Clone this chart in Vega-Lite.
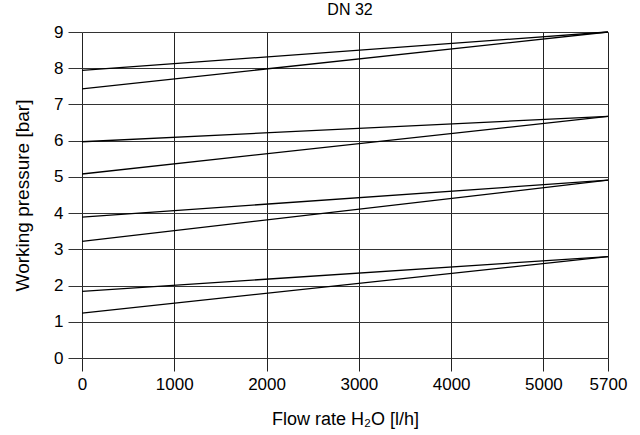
{
  "$schema": "https://vega.github.io/schema/vega-lite/v6.json",
  "autosize": {"type": "none"},
  "padding": {"left": 82, "top": 32, "right": 32, "bottom": 77},
  "width": 526,
  "height": 326,
  "background": "white",
  "title": {"text": "DN 32", "font": "Liberation Sans", "fontSize": 16, "fontWeight": "normal", "color": "#000", "offset": 5, "anchor": "middle", "dx": 5},
  "config": {"view": {"stroke": null}},
  "data": {"values": [
    {"s": "a", "flow": 0, "p": 7.94}, {"s": "a", "flow": 5700, "p": 9.0},
    {"s": "b", "flow": 0, "p": 7.43}, {"s": "b", "flow": 5700, "p": 9.0},
    {"s": "c", "flow": 0, "p": 5.97}, {"s": "c", "flow": 5700, "p": 6.67},
    {"s": "d", "flow": 0, "p": 5.08}, {"s": "d", "flow": 5700, "p": 6.67},
    {"s": "e", "flow": 0, "p": 3.89}, {"s": "e", "flow": 5700, "p": 4.91},
    {"s": "f", "flow": 0, "p": 3.22}, {"s": "f", "flow": 5700, "p": 4.91},
    {"s": "g", "flow": 0, "p": 1.84}, {"s": "g", "flow": 5700, "p": 2.80},
    {"s": "h", "flow": 0, "p": 1.24}, {"s": "h", "flow": 5700, "p": 2.80}
  ]},
  "mark": {"type": "line", "color": "#000", "strokeWidth": 1.3},
  "encoding": {
    "x": {"field": "flow", "type": "quantitative",
      "scale": {"domain": [0, 5700], "nice": false, "zero": false},
      "axis": {"values": [0, 1000, 2000, 3000, 4000, 5000, 5700], "format": "d", "title": "Flow rate H₂O [l/h]",
        "grid": true, "gridColor": "#222", "gridWidth": 1, "gridOpacity": 1,
        "domain": false, "tickSize": 13, "tickColor": "#222", "tickWidth": 1,
        "labelFont": "Liberation Sans", "labelFontSize": 17, "labelColor": "#000", "labelPadding": 5, "labelFlush": false,
        "titleFont": "Liberation Sans", "titleFontSize": 18, "titleFontWeight": "normal", "titleColor": "#000", "titlePadding": 18}},
    "y": {"field": "p", "type": "quantitative",
      "scale": {"domain": [0, 9], "nice": false},
      "axis": {"values": [0, 1, 2, 3, 4, 5, 6, 7, 8, 9], "format": "d", "title": "Working pressure [bar]",
        "grid": true, "gridColor": "#333", "gridWidth": 1, "gridOpacity": 1,
        "domain": false, "tickSize": 14, "tickColor": "#333", "tickWidth": 1,
        "labelFont": "Liberation Sans", "labelFontSize": 17, "labelColor": "#000", "labelPadding": 5,
        "titleFont": "Liberation Sans", "titleFontSize": 19, "titleFontWeight": "normal", "titleColor": "#000", "titlePadding": 21}},
    "detail": {"field": "s", "type": "nominal"}
  }
}
